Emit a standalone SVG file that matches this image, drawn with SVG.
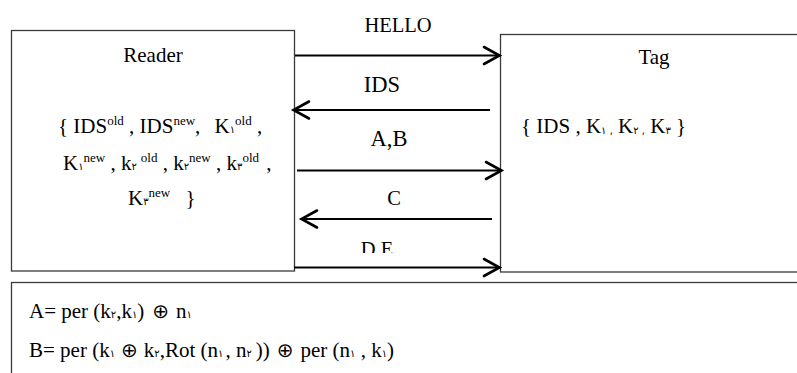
<svg xmlns="http://www.w3.org/2000/svg" width="797" height="373" viewBox="0 0 797 373">
  <style>
    .box { fill: #fff; stroke: #3a3a3a; stroke-width: 1.3; }
    .t { font-family: "Liberation Serif", "Times New Roman", "DejaVu Serif", serif; fill: #000; }
    .d { font-family: "DejaVu Sans", sans-serif; font-size: 10px; }
    .dw { font-family: "DejaVu Sans", sans-serif; font-size: 10px; letter-spacing: 3px; }
    .df { font-family: "DejaVu Sans", sans-serif; font-size: 10px; letter-spacing: 5px; }
    .s { font-size: 13px; }
    .ox { font-family: "DejaVu Sans", sans-serif; font-size: 20px; }
    .wire { stroke: #000; stroke-width: 2.2; fill: none; }
    .head { stroke: #000; stroke-width: 2.6; fill: none; stroke-linecap: round; stroke-linejoin: miter; }
  </style>
  <defs>
    <clipPath id="labelClip"><rect x="0" y="0" width="797" height="253"/></clipPath>
  </defs>
  <rect width="797" height="373" fill="#fff"/>

  <g id="reader">
    <rect class="box" x="11.5" y="30.5" width="283" height="240.5"/>
    <text class="t" x="153" y="62" font-size="21" text-anchor="middle">Reader</text>
    <!-- stored key set, three lines -->
    <text class="t" font-size="21"><tspan x="58" y="133">{ IDS</tspan><tspan class="s" y="125">old</tspan><tspan y="133"> , IDS</tspan><tspan class="s" y="125">new</tspan><tspan y="133">,</tspan><tspan dx="9" y="133"> K</tspan><tspan class="dw" y="133">۱</tspan><tspan class="s" y="125">old</tspan><tspan y="133"> ,</tspan></text>
    <text class="t" font-size="21"><tspan x="63" y="170">K</tspan><tspan class="dw" y="170">۱</tspan><tspan class="s" y="162">new</tspan><tspan y="170"> , k</tspan><tspan class="dw" y="170">۲</tspan><tspan class="s" dx="4" y="162">old</tspan><tspan y="170"> , k</tspan><tspan class="dw" y="170">۲</tspan><tspan class="s" y="162">new</tspan><tspan y="170"> , k</tspan><tspan class="dw" y="170">۳</tspan><tspan class="s" y="162">old</tspan><tspan dx="2" y="170"> ,</tspan></text>
    <text class="t" font-size="21"><tspan x="128" y="205">K</tspan><tspan class="dw" y="205">۳</tspan><tspan class="s" y="197">new</tspan><tspan dx="10" y="205"> }</tspan></text>
  </g>

  <g id="tag">
    <rect class="box" x="500.5" y="34.5" width="310" height="237.5"/>
    <text class="t" x="654" y="64" font-size="21" text-anchor="middle">Tag</text>
    <text class="t" font-size="21"><tspan x="521" y="133">{ IDS , K</tspan><tspan class="d" y="134">۱ ,</tspan><tspan y="133"> K</tspan><tspan class="d" y="134">۲ ,</tspan><tspan y="133"> K</tspan><tspan class="d" y="134">۳</tspan><tspan y="133"> }</tspan></text>
  </g>

  <g id="formulas">
    <rect class="box" x="11.5" y="282.5" width="800" height="100"/>
    <text class="t" font-size="21"><tspan x="29" y="318">A= per (k</tspan><tspan class="df" y="318">۲</tspan><tspan y="318">,k</tspan><tspan class="df" y="318">۱</tspan><tspan y="318">)</tspan><tspan class="ox" dx="8" y="318">⊕</tspan><tspan dx="7" y="318">n</tspan><tspan class="df" y="318">۱</tspan></text>
    <text class="t" font-size="21"><tspan x="29" y="357">B= per (k</tspan><tspan class="df" y="357">۱</tspan><tspan class="ox" dx="6" y="357">⊕</tspan><tspan dx="6" y="357">k</tspan><tspan class="df" y="357">۲</tspan><tspan y="357">,Rot (n</tspan><tspan class="df" y="357">۱</tspan><tspan dx="2" y="357">, n</tspan><tspan class="df" y="357">۲</tspan><tspan dx="4" y="357">))</tspan><tspan class="ox" dx="7" y="357">⊕</tspan><tspan dx="7" y="357">per (n</tspan><tspan class="df" y="357">۱</tspan><tspan y="357"> , k</tspan><tspan class="df" y="357">۱</tspan><tspan y="357">)</tspan></text>
  </g>

  <g id="connectors">
    <!-- HELLO: reader to tag -->
    <line class="wire" x1="295" y1="55.5" x2="499" y2="55.5"/>
    <polyline class="head" points="484,47 499.5,55.5 484,64"/>
    <text class="t" x="398" y="31.5" font-size="20.5" text-anchor="middle">HELLO</text>

    <!-- IDS: tag to reader -->
    <line class="wire" x1="490" y1="110" x2="294" y2="110"/>
    <polyline class="head" points="309,101.5 293.5,110 309,118.5"/>
    <text class="t" x="382" y="91.5" font-size="22.5" text-anchor="middle">IDS</text>

    <!-- A,B: reader to tag -->
    <line class="wire" x1="297" y1="170.5" x2="501" y2="170.5"/>
    <polyline class="head" points="486,162 501.5,170.5 486,179"/>
    <text class="t" x="389" y="146" font-size="22.5" text-anchor="middle">A,B</text>

    <!-- C: tag to reader -->
    <line class="wire" x1="492" y1="219" x2="302" y2="219"/>
    <polyline class="head" points="317,210.5 301.5,219 317,227.5"/>
    <text class="t" x="394" y="205" font-size="20.5" text-anchor="middle">C</text>

    <!-- D,E: reader to tag -->
    <line class="wire" x1="294" y1="267.5" x2="499" y2="267.5"/>
    <polyline class="head" points="484,259 499.5,267.5 484,276"/>
    <text class="t" x="377" y="256" font-size="20.5" text-anchor="middle" clip-path="url(#labelClip)">D,E</text>
  </g>
</svg>
